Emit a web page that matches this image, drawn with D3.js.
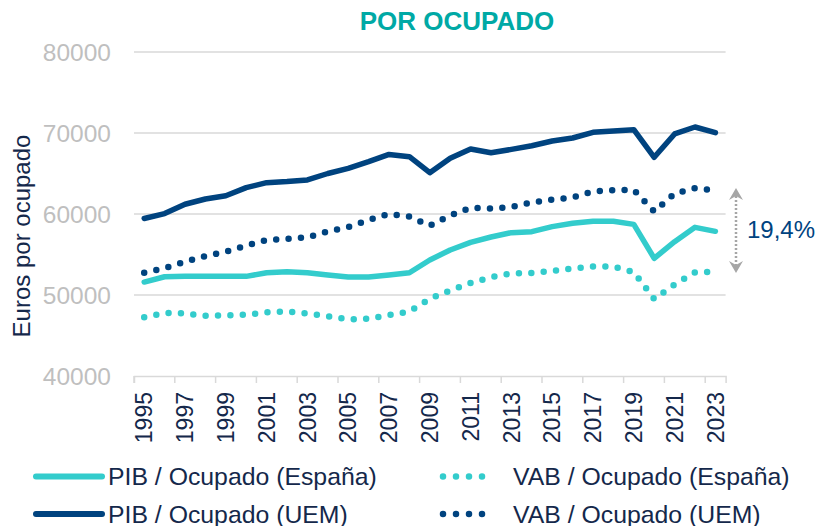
<!DOCTYPE html>
<html>
<head>
<meta charset="utf-8">
<script src="https://cdn.jsdelivr.net/npm/d3@7"></script>
<style>
  body { margin: 0; background: #fff; }
  text { font-family: "Liberation Sans", Arial, sans-serif; }
</style>
</head>
<body>
<script>
var width = 817, height = 526

// data
var years = d3.range(1995, 2024)
var pibEsp = [51600, 52250, 52300, 52300, 52300, 52300, 52750, 52880, 52760, 52470, 52220, 52220, 52470, 52750,
  54320, 55560, 56500, 57160, 57700, 57820, 58440, 58850, 59100, 59100, 58720, 54530, 56580, 58350, 57860]
var pibUem = [59450, 60050, 61200, 61850, 62250, 63250, 63870, 64000, 64200, 65000, 65640, 66460, 67350, 67080,
  65100, 66870, 68020, 67560, 67980, 68430, 69010, 69380, 70080, 70250, 70410, 67000, 69880, 70740, 70040]
var vabEsp = [47250, 47780, 47720, 47430, 47480, 47570, 47860, 47960, 47700, 47380, 47000, 47060, 47530, 47960,
  49530, 50560, 51480, 52200, 52660, 52720, 52960, 53280, 53510, 53510, 52840, 49500, 51300, 52810, 52840]
var vabUem = [52750, 53300, 54100, 54800, 55330, 56100, 56790, 56930, 57110, 57850, 58400, 59260, 60000, 59690,
  58550, 59810, 60770, 60680, 60860, 61420, 61790, 62040, 62780, 62950, 62960, 60300, 62530, 63190, 62900]
var yTicks = [40000, 50000, 60000, 70000, 80000]
var xLabels = years.filter(function(d) { return (d - 1995) % 2 === 0 })
var gapLabel = "19,4%"

var teal = "#33CCCC", navy = "#00437F", textNavy = "#14284B"

var series = [
  {name: "PIB / Ocupado (España)", values: pibEsp, color: teal, dotted: false},
  {name: "PIB / Ocupado (UEM)", values: pibUem, color: navy, dotted: false},
  {name: "VAB / Ocupado (España)", values: vabEsp, color: teal, dotted: true},
  {name: "VAB / Ocupado (UEM)", values: vabUem, color: navy, dotted: true}
]

var svg = d3.select("body").append("svg")
    .attr("width", width)
    .attr("height", height)

var x = d3.scaleBand().domain(years).range([134, 725.6]).padding(0)
var y = d3.scaleLinear().domain([40000, 80000]).range([376, 52])
var cx = function(d) { return x(d) + x.bandwidth() / 2 }

// title
svg.append("text")
  .attr("x", 457).attr("y", 29.5)
  .attr("text-anchor", "middle")
  .style("font-size", "26px").style("font-weight", "bold")
  .attr("fill", "#00A9A5")
  .text("POR OCUPADO")

// gridlines
svg.append("g").selectAll("line")
  .data(yTicks.slice(1))
  .enter().append("line")
  .attr("x1", 134).attr("x2", 725.6)
  .attr("y1", function(d) { return y(d) }).attr("y2", function(d) { return y(d) })
  .attr("stroke", "#D9D9D9").attr("stroke-width", 1.5)

// y axis labels
svg.append("g").selectAll("text")
  .data(yTicks)
  .enter().append("text")
  .attr("x", 111).attr("y", function(d) { return y(d) })
  .attr("dy", "0.36em")
  .attr("text-anchor", "end")
  .style("font-size", "24.5px")
  .attr("fill", "#BFBFBF")
  .text(function(d) { return d })

svg.append("text")
  .attr("transform", "translate(30,236) rotate(-90)")
  .attr("text-anchor", "middle")
  .style("font-size", "24px")
  .attr("fill", textNavy)
  .text("Euros por ocupado")

// x axis
var xAxis = d3.axisBottom(x)
  .tickValues(xLabels)
  .tickSize(7)
  .tickFormat("")
var gx = svg.append("g")
  .attr("transform", "translate(0,376)")
  .call(xAxis)
gx.select(".domain").attr("stroke", "#D9D9D9").attr("stroke-width", 1.5)
gx.selectAll(".tick line")
  .attr("stroke", "#D9D9D9").attr("stroke-width", 1.5)
  .attr("transform", "translate(" + (-x.bandwidth() / 2) + ",0)")

svg.append("g").selectAll("text")
  .data(xLabels)
  .enter().append("text")
  .attr("transform", function(d) { return "translate(" + cx(d) + ",392) rotate(-90)" })
  .attr("dy", "0.36em")
  .attr("text-anchor", "end")
  .style("font-size", "23px")
  .attr("fill", textNavy)
  .text(function(d) { return d })

// lines
var line = d3.line()
  .x(function(d, i) { return cx(years[i]) })
  .y(function(d) { return y(d) })

svg.append("g").selectAll("path")
  .data(series)
  .enter().append("path")
  .attr("d", function(d) { return line(d.values) })
  .attr("fill", "none")
  .attr("stroke", function(d) { return d.color })
  .attr("stroke-width", function(d) { return d.dotted ? 6.5 : 5.5 })
  .attr("stroke-linecap", "round")
  .attr("stroke-linejoin", "round")
  .attr("stroke-dasharray", function(d) { return d.dotted ? "0 12.4" : null })

// gap annotation
var ax = 736
var yTop = y(vabUem[vabUem.length - 1]) - 2.5, yBot = y(vabEsp[vabEsp.length - 1]) + 1
svg.append("line")
  .attr("x1", ax).attr("x2", ax)
  .attr("y1", yTop + 8).attr("y2", yBot - 8)
  .attr("stroke", "#A6A6A6").attr("stroke-width", 2.5)
  .attr("stroke-dasharray", "2 2")
svg.append("path")
  .attr("d", "M" + ax + "," + yTop + "L" + (ax - 7) + "," + (yTop + 12) + "L" + ax + "," + (yTop + 8) + "L" + (ax + 7) + "," + (yTop + 12) + "Z")
  .attr("fill", "#A6A6A6")
svg.append("path")
  .attr("d", "M" + ax + "," + yBot + "L" + (ax - 7) + "," + (yBot - 12) + "L" + ax + "," + (yBot - 8) + "L" + (ax + 7) + "," + (yBot - 12) + "Z")
  .attr("fill", "#A6A6A6")
svg.append("text")
  .attr("x", 747).attr("y", 238)
  .style("font-size", "24px")
  .attr("fill", navy)
  .text(gapLabel)

// legend
var legend = svg.append("g").selectAll("g")
  .data(series)
  .enter().append("g")
  .attr("transform", function(d, i) {
    return "translate(" + (i < 2 ? 36 : 443) + "," + (i % 2 === 0 ? 476.5 : 514) + ")"
  })

legend.append("line")
  .attr("x1", 0).attr("x2", function(d) { return d.dotted ? 52 : 66 })
  .attr("stroke", function(d) { return d.color })
  .attr("stroke-width", function(d) { return d.dotted ? 6.5 : 6 })
  .attr("stroke-linecap", "round")
  .attr("stroke-dasharray", function(d) { return d.dotted ? "0 13" : null })

legend.append("text")
  .attr("x", function(d) { return d.dotted ? 70 : 72 })
  .attr("y", 8.5)
  .style("font-size", "24.8px")
  .attr("fill", textNavy)
  .text(function(d) { return d.name })
</script>
</body>
</html>
